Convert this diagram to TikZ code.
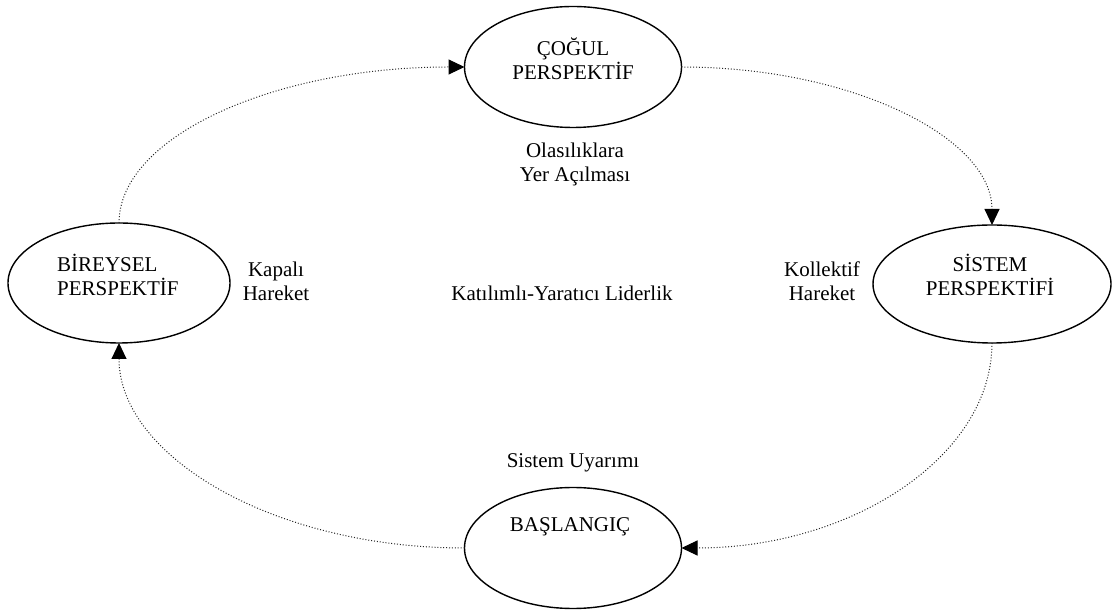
\documentclass[tikz,border=0pt]{standalone}
\usepackage{fontspec}
\setmainfont{Liberation Serif}
\usetikzlibrary{shapes.geometric,arrows.meta}
\begin{document}
\begin{tikzpicture}[x=1pt,y=1pt,
  stage/.style={draw, ellipse, line width=1.4pt, inner sep=0pt, outer sep=0pt},
  caption/.style={font=\fontsize{21}{24}\selectfont, align=center, inner sep=0pt},
  flow/.style={line width=1pt, black!85, dash pattern=on 1pt off 1.9pt,
    -{Triangle[length=16pt,width=15pt,color=black]}}
]
\useasboundingbox (0,0) rectangle (1113,610);

% the four perspectives
\node[stage, minimum width=217pt, minimum height=121pt] (cogul) at (573,543) {};
\node[stage, minimum width=222pt, minimum height=120pt] (bireysel) at (119,327) {};
\node[stage, minimum width=238pt, minimum height=118pt] (sistem) at (992,326) {};
\node[stage, minimum width=217pt, minimum height=121pt] (baslangic) at (573,62) {};

% texts inside the ellipses
\node[caption] (cogul-t) at (573,551.5) {ÇOĞUL\\PERSPEKTİF};
\node[caption, align=left, anchor=west] (bireysel-t) at (57,335) {BİREYSEL\\PERSPEKTİF};
\node[caption] (sistem-t) at (990,335) {SİSTEM\\PERSPEKTİFİ};
\node[caption] (baslangic-t) at (570,83) {BAŞLANGIÇ};

% free labels
\node[caption] (kapali) at (276,329) {Kapalı\\Hareket};
\node[caption] (kollektif) at (822,329) {Kollektif\\Hareket};
\node[caption] (olasilik) at (575,446) {Olasılıklara\\Yer Açılması};
\node[caption] (liderlik) at (562,317) {Katılımlı-Yaratıcı Liderlik};
\node[caption] (uyarim) at (573,147) {Sistem Uyarımı};

% the cycle
\draw[flow] (bireysel.north) to[out=90, in=180, out distance=86pt, in distance=191pt] (cogul.west);
\draw[flow] (cogul.east) to[out=0, in=90, out distance=171pt, in distance=87pt] (sistem.north);
\draw[flow] (sistem.south) to[out=-90, in=0, out distance=113pt, in distance=171pt] (baslangic.east);
\draw[flow] (baslangic.west) to[out=180, in=-90, out distance=191pt, in distance=113pt] (bireysel.south);
\end{tikzpicture}
\end{document}
